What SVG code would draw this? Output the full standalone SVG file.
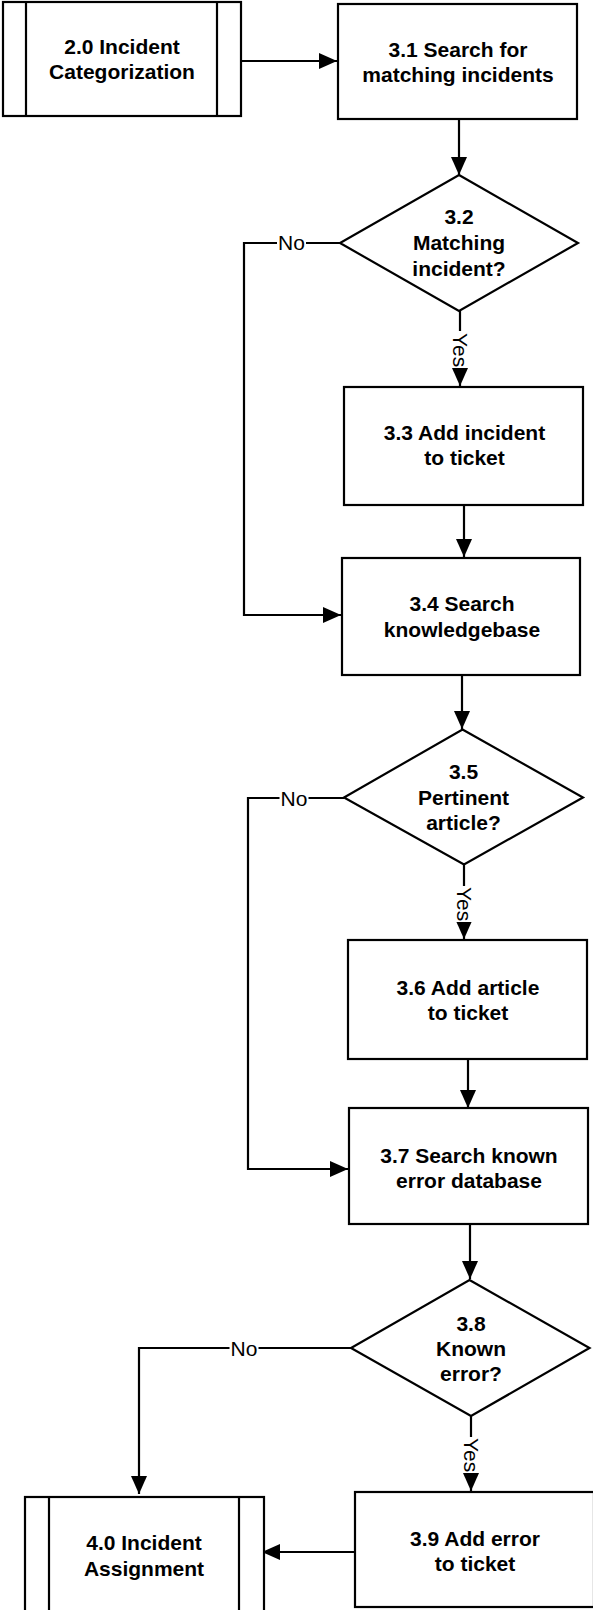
<svg xmlns="http://www.w3.org/2000/svg" width="593" height="1610" viewBox="0 0 593 1610">
  <defs>
    <marker id="arrow" markerUnits="userSpaceOnUse" markerWidth="18" markerHeight="16" viewBox="0 0 18 16" refX="18" refY="8" orient="auto">
      <path d="M0,0 L18,8 L0,16 Z" fill="#000"/>
    </marker>
    <style>
      .box { fill: #fff; stroke: #000; stroke-width: 2.2; }
      .bar { stroke: #000; stroke-width: 2.2; }
      .node-text { font-family: "Liberation Sans", Arial, sans-serif; font-size: 21px; font-weight: bold; fill: #000; text-anchor: middle; }
      .conn { fill: none; stroke: #000; stroke-width: 2.2; marker-end: url(#arrow); }
      .lbl-bg { fill: #fff; stroke: none; }
      .lbl { font-family: "Liberation Sans", Arial, sans-serif; font-size: 21px; fill: #000; text-anchor: middle; }
    </style>
  </defs>

  <rect width="593" height="1610" fill="#fff"/>

  <!-- connectors -->
  <g id="connectors">
    <path class="conn" d="M241,61 H337"/>
    <path class="conn" d="M459,119 V175"/>
    <path class="conn" d="M340,243 H244 V615 H341"/>
    <path class="conn" d="M460,311 V386"/>
    <path class="conn" d="M464,505 V557"/>
    <path class="conn" d="M462,675 V729"/>
    <path class="conn" d="M344,798 H248 V1169 H348"/>
    <path class="conn" d="M464,865 V939"/>
    <path class="conn" d="M468,1059 V1108"/>
    <path class="conn" d="M470,1224 V1279"/>
    <path class="conn" d="M351,1348 H139 V1494"/>
    <path class="conn" d="M471,1416 V1491"/>
    <path class="conn" d="M355,1552 H262"/>

    <!-- branch labels -->
    <g id="label-no-32">
      <rect class="lbl-bg" x="277" y="233" width="29" height="19"/>
      <text class="lbl" x="291.5" y="250">No</text>
    </g>
    <g id="label-yes-32">
      <rect class="lbl-bg" x="452" y="331" width="17" height="37"/>
      <text class="lbl" transform="translate(452.5,350) rotate(90)">Yes</text>
    </g>
    <g id="label-no-35">
      <rect class="lbl-bg" x="279.5" y="788" width="29" height="19"/>
      <text class="lbl" x="294" y="805.5">No</text>
    </g>
    <g id="label-yes-35">
      <rect class="lbl-bg" x="456" y="886" width="17" height="36"/>
      <text class="lbl" transform="translate(456.5,904) rotate(90)">Yes</text>
    </g>
    <g id="label-no-38">
      <rect class="lbl-bg" x="229.5" y="1338" width="29" height="19"/>
      <text class="lbl" x="244" y="1355.5">No</text>
    </g>
    <g id="label-yes-38">
      <rect class="lbl-bg" x="463" y="1437" width="17" height="36"/>
      <text class="lbl" transform="translate(463.5,1455) rotate(90)">Yes</text>
    </g>
  </g>

  <!-- 2.0 predefined process -->
  <g id="node-2-0">
    <rect class="box" x="3" y="2" width="238" height="114"/>
    <line class="bar" x1="26" y1="2" x2="26" y2="116"/>
    <line class="bar" x1="217" y1="2" x2="217" y2="116"/>
    <text class="node-text" x="122" y="53.5">2.0 Incident</text>
    <text class="node-text" x="122" y="78.5">Categorization</text>
  </g>

  <g id="node-3-1">
    <rect class="box" x="338" y="4" width="239" height="115"/>
    <text class="node-text" x="458" y="57">3.1 Search for</text>
    <text class="node-text" x="458" y="82">matching incidents</text>
  </g>

  <g id="node-3-2">
    <polygon class="box" points="459,175 578,243 459,311 340,243"/>
    <text class="node-text" x="459" y="224">3.2</text>
    <text class="node-text" x="459" y="250">Matching</text>
    <text class="node-text" x="459" y="275.5">incident?</text>
  </g>

  <g id="node-3-3">
    <rect class="box" x="344" y="387" width="239" height="118"/>
    <text class="node-text" x="464.5" y="440">3.3 Add incident</text>
    <text class="node-text" x="464.5" y="465">to ticket</text>
  </g>

  <g id="node-3-4">
    <rect class="box" x="342" y="558" width="238" height="117"/>
    <text class="node-text" x="462" y="611">3.4 Search</text>
    <text class="node-text" x="462" y="637">knowledgebase</text>
  </g>

  <g id="node-3-5">
    <polygon class="box" points="462.5,729.5 583,797.5 464,864.5 344,797.5"/>
    <text class="node-text" x="463.5" y="779">3.5</text>
    <text class="node-text" x="463.5" y="805">Pertinent</text>
    <text class="node-text" x="463.5" y="830">article?</text>
  </g>

  <g id="node-3-6">
    <rect class="box" x="348" y="940" width="239" height="119"/>
    <text class="node-text" x="468" y="995">3.6 Add article</text>
    <text class="node-text" x="468" y="1020">to ticket</text>
  </g>

  <g id="node-3-7">
    <rect class="box" x="349" y="1108" width="239" height="116"/>
    <text class="node-text" x="469" y="1163">3.7 Search known</text>
    <text class="node-text" x="469" y="1188">error database</text>
  </g>

  <g id="node-3-8">
    <polygon class="box" points="469.5,1280 589.5,1348 471,1416 351,1348"/>
    <text class="node-text" x="471" y="1331">3.8</text>
    <text class="node-text" x="471" y="1356">Known</text>
    <text class="node-text" x="471" y="1381">error?</text>
  </g>

  <g id="node-3-9">
    <rect class="box" x="355" y="1492" width="239" height="115"/>
    <text class="node-text" x="475" y="1546">3.9 Add error</text>
    <text class="node-text" x="475" y="1571">to ticket</text>
  </g>

  <!-- 4.0 predefined process -->
  <g id="node-4-0">
    <rect class="box" x="25" y="1497" width="239" height="120"/>
    <line class="bar" x1="49" y1="1497" x2="49" y2="1617"/>
    <line class="bar" x1="239" y1="1497" x2="239" y2="1617"/>
    <text class="node-text" x="144" y="1550">4.0 Incident</text>
    <text class="node-text" x="144" y="1576">Assignment</text>
  </g>
</svg>
